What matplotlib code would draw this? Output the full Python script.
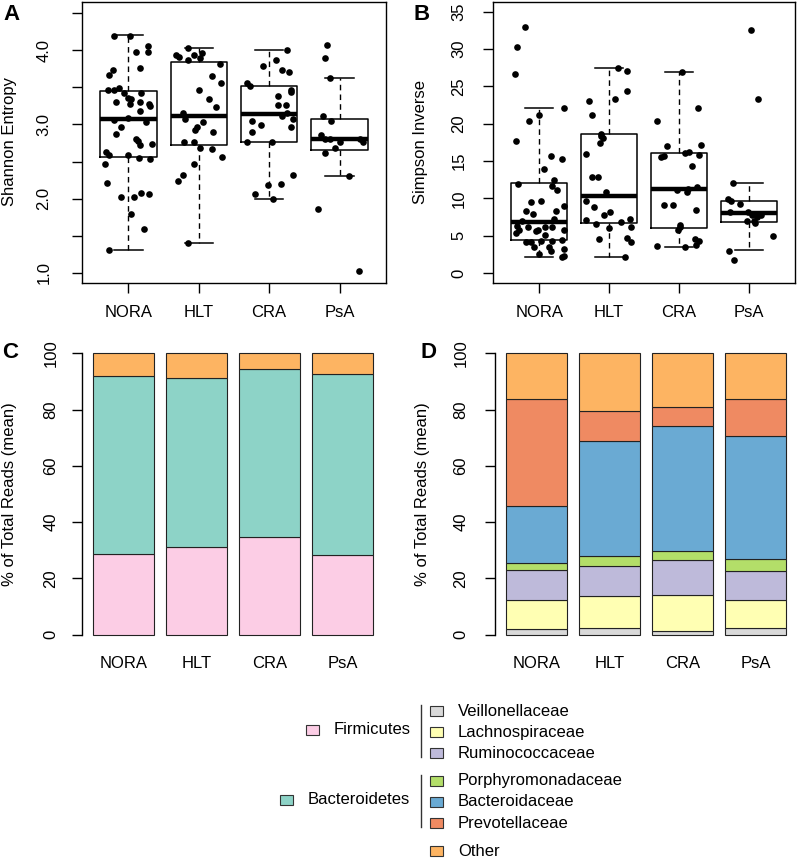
import numpy as np
import matplotlib
matplotlib.use('Agg')
import matplotlib.pyplot as plt
from matplotlib.patches import Rectangle

plt.rcParams['font.family'] = ['Liberation Sans', 'DejaVu Sans']
plt.rcParams['font.size'] = 12
plt.rcParams['axes.linewidth'] = 1.0

# %% Data
groups = ['NORA', 'HLT', 'CRA', 'PsA']

# Shannon entropy, points (value, horizontal jitter)
nora_shannon = [4.19, 4.19, 4.06, 3.98, 3.98, 3.76, 3.74, 3.66, 3.47, 3.47, 3.49, 3.43, 3.36, 3.34, 3.42,
                3.30, 3.28, 3.30, 3.27, 3.25, 3.18, 3.06, 3.09, 3.03, 2.97, 2.87, 2.80, 2.78, 2.73, 2.74,
                2.63, 2.59, 2.59, 2.55, 2.53, 2.47, 2.21, 2.03, 2.02, 2.08, 2.06, 1.80, 1.59, 1.31]
nora_shannon_dx = [-0.20, 0.02, 0.28, 0.28, 0.11, 0.16, -0.22, -0.28, -0.29, -0.21, -0.14, -0.07, 0.00, 0.04, 0.18,
                   -0.18, 0.02, 0.17, 0.29, 0.30, 0.17, -0.21, -0.01, 0.25, -0.11, -0.17, 0.11, 0.14, 0.17, 0.33,
                   -0.32, -0.27, -0.01, 0.15, 0.31, -0.34, -0.31, -0.10, 0.08, 0.18, 0.29, 0.04, 0.22, -0.28]
hlt_shannon = [4.03, 3.94, 3.91, 3.87, 3.93, 3.96, 3.89, 3.81, 3.65, 3.56, 3.47, 3.34, 3.24, 3.16, 3.08,
               3.03, 2.97, 2.92, 2.90, 2.76, 2.77, 2.69, 2.67, 2.56, 2.47, 2.32, 2.24, 1.40]
hlt_shannon_dx = [-0.15, -0.33, -0.28, -0.15, -0.07, 0.05, 0.01, 0.30, 0.19, 0.31, 0.00, 0.15, 0.25, -0.22, -0.19,
                  0.06, -0.03, -0.06, 0.20, -0.21, -0.07, 0.02, 0.19, 0.33, -0.07, -0.22, -0.30, -0.16]
cra_shannon = [4.01, 3.87, 3.79, 3.73, 3.71, 3.56, 3.52, 3.47, 3.44, 3.38, 3.26, 3.26, 3.12, 3.16, 3.05,
               2.99, 3.07, 2.90, 2.97, 2.77, 2.76, 2.32, 2.19, 2.20, 2.06, 1.99]
cra_shannon_dx = [0.25, 0.09, -0.09, 0.18, 0.28, -0.32, -0.27, 0.31, 0.31, 0.13, 0.13, 0.24, 0.18, 0.25, -0.25,
                  -0.12, 0.34, -0.25, 0.31, -0.32, 0.04, 0.34, -0.01, 0.17, -0.20, 0.06]
psa_shannon = [4.07, 3.90, 3.62, 3.12, 3.05, 2.86, 2.80, 2.80, 2.76, 2.69, 2.81, 2.77, 2.61, 2.31, 1.86, 1.02]
psa_shannon_dx = [-0.18, -0.21, -0.13, -0.23, -0.12, -0.27, -0.20, -0.14, 0.00, -0.06, 0.29, 0.34, -0.20, 0.13,
                  -0.30, 0.27]

# Shannon boxplot stats
shannon_q1 = [2.56, 2.72, 2.77, 2.66]
shannon_med = [3.07, 3.12, 3.14, 2.80]
shannon_q3 = [3.45, 3.84, 3.52, 3.08]
shannon_lo = [1.31, 1.40, 1.99, 2.31]
shannon_hi = [4.20, 4.03, 4.01, 3.62]

# Simpson inverse
nora_simpson = [33.0, 30.3, 26.6, 22.1, 21.1, 20.3, 17.7, 15.7, 15.3, 13.9, 12.5, 11.7, 11.9, 11.1, 9.5,
                9.6, 8.3, 7.9, 8.3, 8.9, 7.2, 7.0, 6.3, 5.7, 5.4, 5.6, 5.7, 6.1, 6.1, 5.7,
                6.2, 5.1, 4.2, 4.1, 4.3, 4.3, 4.4, 3.5, 3.5, 3.0, 3.2, 2.6, 2.2, 2.3]
nora_simpson_dx = [-0.20, -0.31, -0.34, 0.36, 0.00, -0.14, -0.33, 0.17, 0.32, 0.07, 0.21, 0.18, -0.30, 0.26, -0.12,
                   0.02, -0.19, -0.09, 0.24, 0.35, 0.21, -0.25, -0.31, -0.29, -0.33, -0.04, -0.01, 0.08, 0.18, 0.35,
                   -0.16, 0.08, -0.19, -0.12, 0.03, 0.18, 0.33, -0.08, 0.14, 0.17, 0.35, 0.00, 0.33, 0.36]
hlt_simpson = [27.4, 27.0, 24.4, 23.3, 23.1, 21.1, 18.6, 18.3, 17.4, 18.1, 16.0, 12.9, 12.8, 10.8, 9.6,
               8.8, 8.1, 7.8, 7.1, 6.6, 6.8, 7.2, 6.0, 6.1, 4.5, 4.7, 4.1, 2.1]
hlt_simpson_dx = [0.13, 0.25, 0.26, 0.09, -0.29, -0.25, -0.12, -0.11, -0.13, -0.09, -0.33, -0.24, -0.16, -0.05, -0.33,
                  -0.22, 0.01, -0.07, -0.33, -0.19, 0.17, 0.30, 0.00, 0.31, -0.14, 0.25, 0.31, 0.23]
cra_simpson = [26.9, 22.1, 20.4, 17.0, 17.1, 15.5, 15.7, 16.1, 16.2, 15.8, 14.3, 11.3, 11.5, 11.1, 10.9,
               9.1, 9.1, 8.4, 6.4, 5.7, 6.1, 4.6, 4.3, 3.8, 3.6, 3.5]
cra_simpson_dx = [0.04, 0.27, -0.32, -0.17, 0.31, -0.26, -0.22, 0.08, 0.14, 0.28, 0.18, 0.13, 0.26, -0.03, 0.12,
                  -0.22, -0.08, 0.25, 0.02, -0.01, 0.01, 0.23, 0.29, 0.25, -0.31, 0.08]
psa_simpson = [32.5, 23.3, 12.1, 9.9, 9.6, 9.2, 8.1, 8.2, 7.7, 6.9, 6.9, 6.7, 7.8, 7.5, 5.0, 3.0, 1.7]
psa_simpson_dx = [0.03, 0.13, -0.22, -0.30, -0.26, -0.12, -0.27, -0.01, 0.18, -0.02, 0.07, 0.09, 0.05, 0.11,
                  0.35, -0.28, -0.21]

simpson_q1 = [4.39, 6.7, 5.96, 6.8]
simpson_med = [6.86, 10.3, 11.25, 8.0]
simpson_q3 = [12.1, 18.6, 16.05, 9.7]
simpson_lo = [2.15, 2.15, 3.5, 3.05]
simpson_hi = [22.05, 27.4, 26.9, 12.06]

# Phylum level (% of total reads, mean)
firmicutes = [28.8, 31.1, 34.7, 28.5]
bacteroidetes = [63.2, 60.0, 59.7, 64.3]
phylum_other = [8.0, 8.9, 5.6, 7.2]

# Family level
veillonellaceae = [2.0, 2.4, 1.4, 2.4]
lachnospiraceae = [10.2, 11.3, 12.6, 10.0]
ruminococcaceae = [10.9, 10.6, 12.5, 10.1]
porphyromonadaceae = [2.3, 3.6, 3.3, 4.4]
bacteroidaceae = [20.2, 40.9, 44.5, 43.6]
prevotellaceae = [38.1, 10.7, 6.5, 13.3]
family_other = [16.3, 20.5, 19.2, 16.2]

col = {
    'Firmicutes': '#FCCDE5', 'Bacteroidetes': '#8DD3C7', 'Other': '#FDB462',
    'Veillonellaceae': '#D9D9D9', 'Lachnospiraceae': '#FFFFB3', 'Ruminococcaceae': '#BEBADA',
    'Porphyromonadaceae': '#B3DE69', 'Bacteroidaceae': '#6AAAD3', 'Prevotellaceae': '#EF8A62',
}

# %% Figure helpers (pixel based layout)
W, H = 799, 859
fig = plt.figure(figsize=(W / 100, H / 100), dpi=100)

ov = fig.add_axes([0, 0, 1, 1])
ov.set_xlim(0, W)
ov.set_ylim(H, 0)
ov.axis('off')


def px_axes(x0, y0, x1, y1):
    return fig.add_axes([x0 / W, 1 - y1 / H, (x1 - x0) / W, (y1 - y0) / H])


def box_panel(rect, q1, med, q3, lo, hi, vals, jit, ylim, yticks, ylabs, pad):
    ax = px_axes(*rect)
    stats = [dict(q1=a, med=b, q3=c, whislo=d, whishi=e) for a, b, c, d, e in zip(q1, med, q3, lo, hi)]
    ax.bxp(stats, positions=[1, 2, 3, 4], widths=0.8, capwidths=0.4, showfliers=False, manage_ticks=False,
           boxprops=dict(color='black', linewidth=1.1),
           medianprops=dict(color='black', linewidth=3.2, solid_capstyle='butt'),
           whiskerprops=dict(color='black', linewidth=1.0, linestyle=(0, (4, 3))),
           capprops=dict(color='black', linewidth=1.1))
    for i, (v, d) in enumerate(zip(vals, jit)):
        ax.plot(np.array(d) + i + 1, v, 'o', color='black', ms=4.8, mew=0, zorder=3)
    ax.set_xlim(0.34, 4.66)
    ax.set_ylim(*ylim)
    ax.set_xticks([1, 2, 3, 4])
    ax.set_xticklabels(groups)
    ax.set_yticks(yticks)
    ax.set_yticklabels(ylabs, rotation=90, va='center')
    ax.tick_params(length=7, width=1, direction='out')
    ax.tick_params(axis='y', pad=pad)
    ax.tick_params(axis='x', pad=9)
    return ax


def bar_panel(rect, layers, colors, pad):
    ax = px_axes(*rect)
    x = np.array([0.7, 1.9, 3.1, 4.3])
    bottom = np.zeros(4)
    for vals, c in zip(layers, colors):
        ax.bar(x, vals, bottom=bottom, width=1, color=c, edgecolor='#222222', linewidth=0.8)
        bottom += np.array(vals)
    ax.set_xlim(0.016, 4.984)
    ax.set_ylim(-4, 104)
    for s in ['top', 'right', 'bottom']:
        ax.spines[s].set_visible(False)
    ax.spines['left'].set_bounds(0, 100)
    ax.set_xticks(x)
    ax.set_xticklabels(groups)
    ax.tick_params(axis='x', length=0, pad=7)
    ax.set_yticks(range(0, 101, 20))
    ax.set_yticklabels([str(v) for v in range(0, 101, 20)], rotation=90, va='center')
    ax.tick_params(axis='y', length=7, width=1, pad=pad)
    return ax


# %% Panel A
shannon_ticks = np.arange(1.0, 4.51, 0.5)
box_panel((82, 2, 386, 283), shannon_q1, shannon_med, shannon_q3, shannon_lo, shannon_hi,
          [nora_shannon, hlt_shannon, cra_shannon, psa_shannon],
          [nora_shannon_dx, hlt_shannon_dx, cra_shannon_dx, psa_shannon_dx],
          (0.865, 4.65), shannon_ticks,
          [f"{t:.1f}" if t == int(t) else "" for t in shannon_ticks], 15)

# %% Panel B
box_panel((493, 2, 795, 283), simpson_q1, simpson_med, simpson_q3, simpson_lo, simpson_hi,
          [nora_simpson, hlt_simpson, cra_simpson, psa_simpson],
          [nora_simpson_dx, hlt_simpson_dx, cra_simpson_dx, psa_simpson_dx],
          (-1.35, 36.3), range(0, 36, 5), [str(v) for v in range(0, 36, 5)], 12)

# %% Panel C
bar_panel((82, 342, 384, 646), [firmicutes, bacteroidetes, phylum_other],
          [col['Firmicutes'], col['Bacteroidetes'], col['Other']], 10)

# %% Panel D
bar_panel((495, 342, 797, 646),
          [veillonellaceae, lachnospiraceae, ruminococcaceae, porphyromonadaceae,
           bacteroidaceae, prevotellaceae, family_other],
          [col['Veillonellaceae'], col['Lachnospiraceae'], col['Ruminococcaceae'],
           col['Porphyromonadaceae'], col['Bacteroidaceae'], col['Prevotellaceae'], col['Other']], 12)

# %% Labels and panel letters
ov.text(10, 142, 'Shannon Entropy', rotation=90, ha='center', va='center')
ov.text(421, 142, 'Simpson Inverse', rotation=90, ha='center', va='center')
ov.text(10, 494, '% of Total Reads (mean)', rotation=90, ha='center', va='center')
ov.text(423, 494, '% of Total Reads (mean)', rotation=90, ha='center', va='center')
for letter, x, y in [('A', 12, 15), ('B', 422, 14), ('C', 10, 352), ('D', 429, 353)]:
    ov.text(x, y, letter, fontsize=16, fontweight='bold', ha='center', va='center')

# %% Legend
def key(x, y, c):
    ov.add_patch(Rectangle((x - 6.5, y - 5), 13, 10, facecolor=c, edgecolor='#333333', linewidth=0.8))

key(312, 730, col['Firmicutes'])
ov.text(334, 730, 'Firmicutes', va='center', ha='left')
key(286, 800, col['Bacteroidetes'])
ov.text(308, 800, 'Bacteroidetes', va='center', ha='left')
ov.plot([421, 421], [705, 757], color='#333333', lw=1.0)
ov.plot([421, 421], [775, 827], color='#333333', lw=1.0)

fam_rows = [('Veillonellaceae', 711), ('Lachnospiraceae', 732), ('Ruminococcaceae', 753),
            ('Porphyromonadaceae', 781), ('Bacteroidaceae', 802), ('Prevotellaceae', 823), ('Other', 851)]
for name, y in fam_rows:
    key(436, y, col[name])
    ov.text(458, y, name, va='center', ha='left')

fig.savefig('out.png', dpi=100)
